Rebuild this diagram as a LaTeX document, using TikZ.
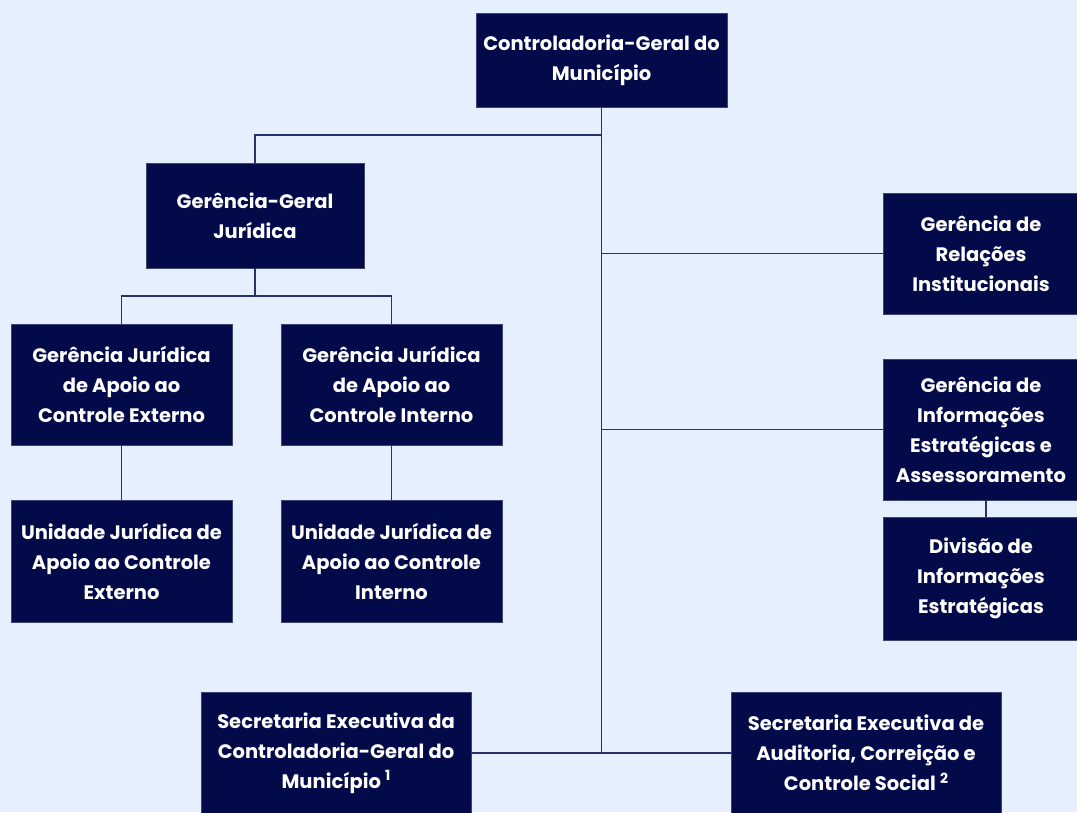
\documentclass[tikz,border=0pt]{standalone}
\usepackage{fontspec}
\setmainfont{Poppins}
\usetikzlibrary{positioning}
\definecolor{navy}{HTML}{020A4A}
\definecolor{navyedge}{HTML}{3B4675}
\definecolor{linkcol}{HTML}{27316A}
\definecolor{paper}{HTML}{E6EFFD}
\tikzset{
  unit/.style={fill=navy, draw=navyedge, line width=0.8pt, text=white,
    font=\bfseries\fontsize{19.5}{30}\selectfont, align=center,
    inner sep=0pt, outer sep=0pt},
  link/.style={draw=linkcol, line width=1.8pt}
}
\begin{document}
\begin{tikzpicture}[x=1pt, y=-1pt]
    \fill[paper] (0, 0) rectangle (1077, 812);
    \useasboundingbox (0, 0) rectangle (1077, 812);
    % top
    \node[unit, minimum width=251pt, minimum height=94pt] (cgm) at (601.5, 60) {Controladoria-Geral do\\Município};
    % left branch
    \node[unit, minimum width=218pt, minimum height=105pt] (ggj) at (255, 215.5) {Gerência-Geral\\Jurídica};
    \node[unit, minimum width=221pt, minimum height=121pt] (gjext) at (121.5, 384.5) {Gerência Jurídica\\de Apoio ao\\Controle Externo};
    \node[unit, minimum width=221pt, minimum height=121pt] (gjint) at (391.5, 384.5) {Gerência Jurídica\\de Apoio ao\\Controle Interno};
    \node[unit, minimum width=221pt, minimum height=122pt] (ujext) at (121.5, 561) {Unidade Jurídica de\\Apoio ao Controle\\Externo};
    \node[unit, minimum width=221pt, minimum height=122pt] (ujint) at (391.5, 561) {Unidade Jurídica de\\Apoio ao Controle\\Interno};
    % right branch
    \node[unit, minimum width=196pt, minimum height=121pt] (gri) at (981, 253.5) {Gerência de\\Relações\\Institucionais};
    \node[unit, minimum width=196pt, minimum height=141pt] (gie) at (981, 429.5) {Gerência de\\Informações\\Estratégicas e\\Assessoramento};
    \node[unit, minimum width=196pt, minimum height=123pt] (die) at (981, 578.5) {Divisão de\\Informações\\Estratégicas};
    % bottom
    \node[unit, minimum width=270pt, minimum height=121pt] (secgm) at (336, 753) {Secretaria Executiva da\\Controladoria-Geral do\\Município {\fontsize{14}{14}\selectfont\raisebox{0.55em}{1}}};
    \node[unit, minimum width=270pt, minimum height=121pt] (secac) at (866, 753) {Secretaria Executiva de\\Auditoria, Correição e\\Controle Social {\fontsize{14}{14}\selectfont\raisebox{0.55em}{2}}};
    % connectors
    \coordinate (trunk) at (cgm.south |- secac.west);
    \begin{scope}[on background layer/.try]
    \draw[link] (cgm.south) -- (trunk);
    \draw[link] (cgm.south |- 0, 135) -| (ggj.north);
    \draw[link] (cgm.south |- gri.west) -- (gri.west);
    \draw[link] (cgm.south |- gie.west) -- (gie.west);
    \draw[link] (secgm.east) -- (secac.west);
    \draw[link] (ggj.south) -- ++(0, 28) -| (gjext.north);
    \draw[link] (ggj.south) ++(0, 28) -| (gjint.north);
    \draw[link] (gjext.south) -- (ujext.north);
    \draw[link] (gjint.south) -- (ujint.north);
    \draw[link] ([xshift=5pt]gie.south) -- ([xshift=5pt]die.north);
    \end{scope}
\end{tikzpicture}
\end{document}
